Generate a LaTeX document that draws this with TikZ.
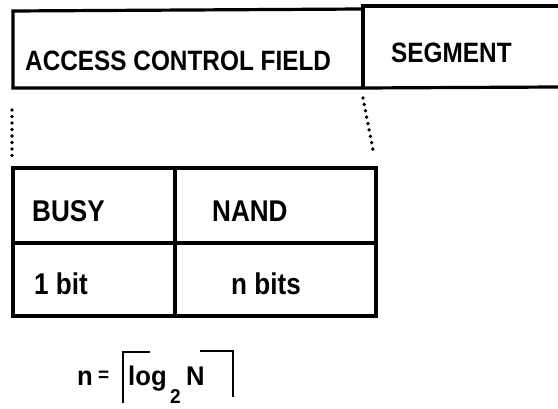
\documentclass[tikz,border=0pt]{standalone}
\usepackage{fontspec}
\setmainfont{Liberation Sans}
\newfontfamily\tallfont{Liberation Sans}[UprightFont=* Bold, FakeStretch=0.87]
\newfontfamily\mathfont{Liberation Sans}[UprightFont=* Bold, FakeStretch=0.95]
\begin{document}
\begin{tikzpicture}[x=1pt,y=-1pt,
  frame/.style={line width=3.2pt},
  dotline/.style={line width=3.8pt, line cap=round, dash pattern=on 0pt off 6.5pt},
  lbl/.style={anchor=base west, inner sep=0pt, font=\tallfont\fontsize{28}{32}\selectfont},
  tlbl/.style={anchor=base west, inner sep=0pt, font=\tallfont\fontsize{30}{34}\selectfont},
  flbl/.style={anchor=base west, inner sep=0pt, font=\mathfont\fontsize{27}{30}\selectfont}]
\useasboundingbox (0,0) rectangle (558,409);
% top row
\draw[frame] (558,6) -- (363,6) -- (363,88);
\draw[frame] (363,9) -- (13,11) -- (13,88) -- (363,88) -- (558,87);
\node[lbl] (acf) at (25,71) {ACCESS CONTROL FIELD};
\node[lbl] (seg) at (391,63) {SEGMENT};
% dotted projections
\coordinate (d1) at (12,110);
\coordinate (d2) at (12,156);
\coordinate (e1) at (363,98);
\coordinate (e2) at (373,150);
\draw[dotline] (d1) -- (d2);
\draw[dotline] (e1) -- (e2);
% table
\coordinate (t1) at (13,168);
\coordinate (t2) at (376,316);
\draw[frame] (t1) rectangle (t2);
\draw[frame] (13,243) -- (376,243);
\draw[frame] (175,168) -- (175,316);
\node[tlbl] (busy) at (32,222) {BUSY};
\node[tlbl] (nand) at (212,222) {NAND};
\node[tlbl] (onebit) at (34,295) {1 bit};
\node[tlbl] (nbits) at (231,295) {n bits};
% formula
\node[flbl] (nv) at (77,385) {n};
\node[anchor=base west, inner sep=0pt, font=\mathfont\fontsize{20}{22}\selectfont] (eq) at (98,382) {=};
\node[flbl] (lg) at (128,385) {log};
\node[anchor=base west, inner sep=0pt, font=\mathfont\fontsize{20}{22}\selectfont] (two) at (170,404) {2};
\node[flbl] (nn) at (186,385) {N};
\draw[line width=2.8pt] (150,352) -- (123,352) -- (123,403);
\draw[line width=2.8pt] (200,351) -- (233,351) -- (233,397);
\end{tikzpicture}
\end{document}
